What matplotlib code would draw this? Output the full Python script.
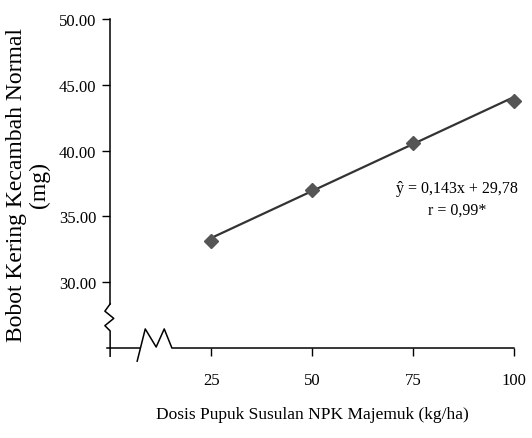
import matplotlib.pyplot as plt

# data
dosis = [25, 50, 75, 100]
bobot = [33.1, 37.0, 40.6, 43.8]
# trendline ends (y = 0.143x + 29.78)
fit_x = [25, 100]
fit_y = [33.36, 44.08]
y_ticks = [30, 35, 40, 45, 50]
x_ticks = [25, 50, 75, 100]

plt.rcParams['font.family'] = ['Liberation Serif', 'DejaVu Serif']

fig = plt.figure(figsize=(5.32, 4.39), dpi=100)
ax = fig.add_axes([0.207, 0.205, 0.759, 0.749])

ax.plot(fit_x, fit_y, color='#333333', linewidth=1.6, zorder=2, clip_on=False)
ax.plot(dosis, bobot, linestyle='none', marker='D', markersize=7,
        color='#555555', zorder=3, clip_on=False)

ax.set_xlim(0, 100)
ax.set_ylim(25, 50)
ax.set_xticks(x_ticks)
ax.set_xticklabels([str(v) for v in x_ticks])
ax.set_yticks(y_ticks)
ax.set_yticklabels(['%.2f' % v for v in y_ticks])
ax.tick_params(axis='both', direction='out', length=6, width=1, labelsize=12,
               color='black')
ax.tick_params(axis='x', pad=11)
ax.tick_params(axis='y', pad=4)

for s in ax.spines.values():
    s.set_visible(False)

# axis lines with break marks
kw = dict(transform=ax.transAxes, color='black', linewidth=1.1, clip_on=False)
ax.plot([0, 0], [1.0, 0.134], **kw)
ax.plot([0, -0.013, 0.009, -0.013, 0.0, 0.0],
        [0.134, 0.112, 0.090, 0.068, 0.052, -0.025], **kw)
ax.plot([-0.008, 0.075], [0, 0], **kw)
ax.plot([0.067, 0.087, 0.114, 0.134, 0.153, 1.0],
        [-0.040, 0.058, 0.003, 0.058, 0.0, 0.0], **kw)

ax.text(86, 37.2, 'ŷ = 0,143x + 29,78', fontsize=11.5, ha='center', va='center')
ax.text(86, 35.5, 'r = 0,99*', fontsize=11.5, ha='center', va='center')

ax.set_xlabel('Dosis Pupuk Susulan NPK Majemuk (kg/ha)', fontsize=12.5,
              labelpad=13)
ax.set_ylabel('Bobot Kering Kecambah Normal\n(mg)', fontsize=17,
              linespacing=1.15, labelpad=6)

fig.savefig('out.png', dpi=100)
